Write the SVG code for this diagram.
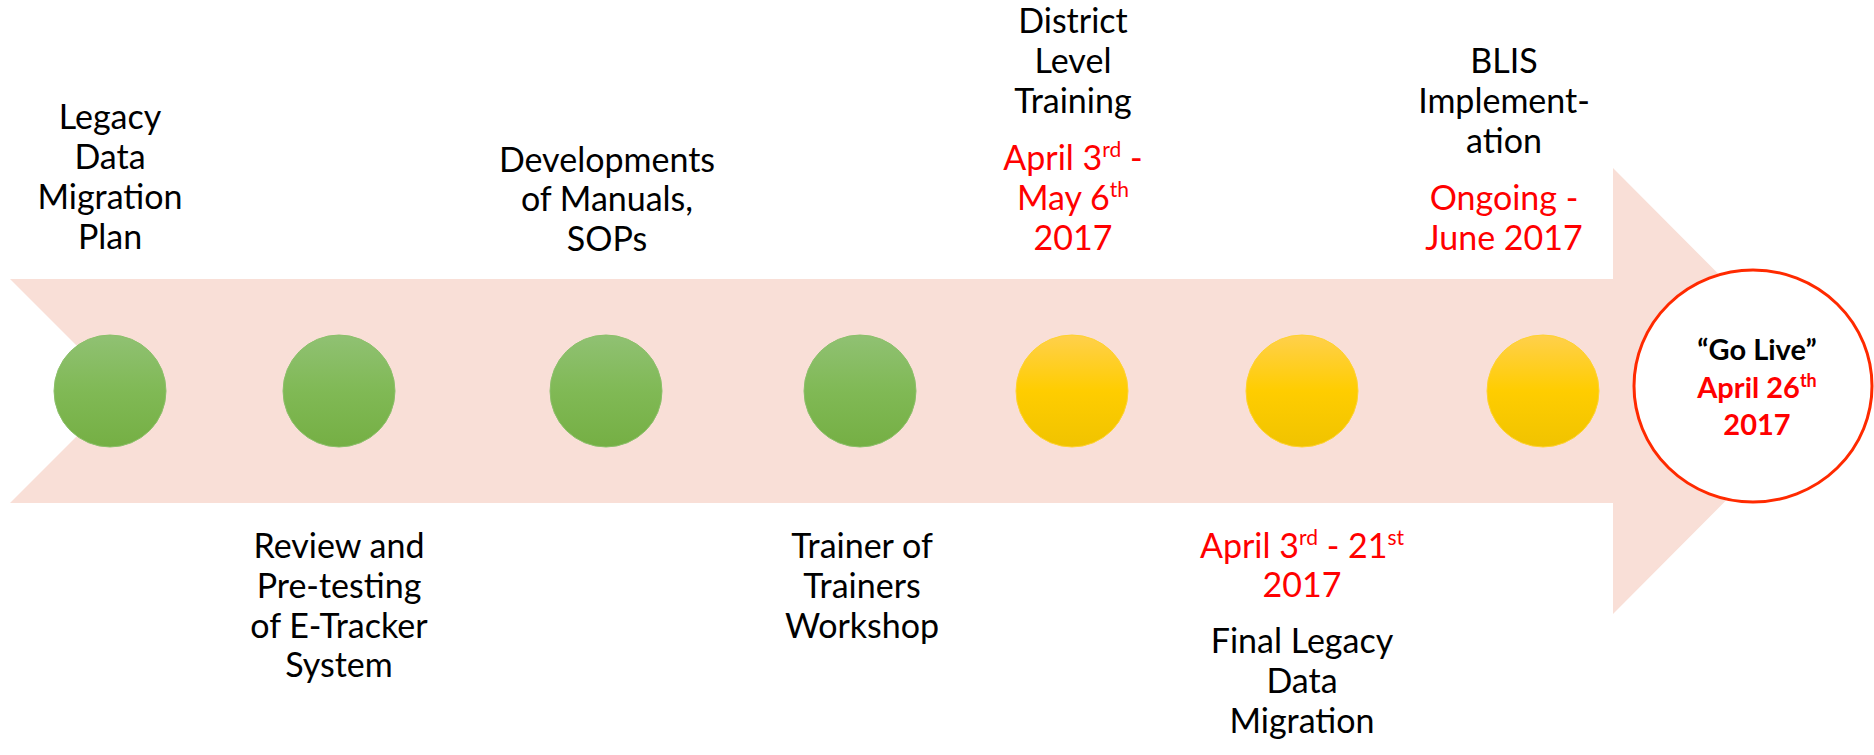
<svg xmlns="http://www.w3.org/2000/svg" width="1874" height="755" viewBox="0 0 1874 755">
<defs>
<linearGradient id="gGreen" x1="0" y1="0" x2="0" y2="1">
<stop offset="0" stop-color="#90C173"/>
<stop offset="0.5" stop-color="#80B955"/>
<stop offset="1" stop-color="#75AF44"/>
</linearGradient>
<linearGradient id="gYellow" x1="0" y1="0" x2="0" y2="1">
<stop offset="0" stop-color="#FFD04C"/>
<stop offset="0.5" stop-color="#FFCD00"/>
<stop offset="1" stop-color="#F0C300"/>
</linearGradient>
<style>
.t{font-family:Lato,"Liberation Sans",sans-serif;font-size:34px;fill:#000;text-anchor:middle}
.r{fill:#FF0000}
.b{font-weight:bold;font-size:29px}
.sup{font-size:21px}
.b .sup{font-size:18px}
.green{fill:url(#gGreen);stroke:#8CC06A;stroke-width:1}
.yellow{fill:url(#gYellow);stroke:#FFD230;stroke-width:1}
</style>
</defs>
<rect width="1874" height="755" fill="#FFFFFF"/>
<g id="arrow">
<polygon points="10,279 1613,279 1613,168 1835,391 1613,614 1613,503 10,503 122,391" fill="#F9DFD7"/>
</g>
<g id="connectors"></g>
<g id="node-legacy">
<circle class="green" cx="110" cy="391" r="56"/>
<text class="t" x="110" y="129">Legacy</text>
<text class="t" x="110" y="169">Data</text>
<text class="t" x="110" y="209">Migration</text>
<text class="t" x="110" y="249">Plan</text>
</g>
<g id="node-review">
<circle class="green" cx="339" cy="391" r="56"/>
<text class="t" x="339" y="558">Review and</text>
<text class="t" x="339" y="598">Pre-testing</text>
<text class="t" x="339" y="638">of E-Tracker</text>
<text class="t" x="339" y="677">System</text>
</g>
<g id="node-manuals">
<circle class="green" cx="606" cy="391" r="56"/>
<text class="t" x="607" y="172">Developments</text>
<text class="t" x="607" y="211">of Manuals,</text>
<text class="t" x="607" y="251">SOPs</text>
</g>
<g id="node-tot">
<circle class="green" cx="860" cy="391" r="56"/>
<text class="t" x="862" y="558">Trainer of</text>
<text class="t" x="862" y="598">Trainers</text>
<text class="t" x="862" y="638">Workshop</text>
</g>
<g id="node-district">
<circle class="yellow" cx="1072" cy="391" r="56"/>
<text class="t" x="1073" y="33">District</text>
<text class="t" x="1073" y="73">Level</text>
<text class="t" x="1073" y="113">Training</text>
<text class="t r" x="1073" y="170">April 3<tspan class="sup" dy="-13">rd</tspan><tspan dy="13"> -</tspan></text>
<text class="t r" x="1073" y="210">May 6<tspan class="sup" dy="-13">th</tspan></text>
<text class="t r" x="1073" y="250">2017</text>
</g>
<g id="node-final">
<circle class="yellow" cx="1302" cy="391" r="56"/>
<text class="t r" x="1302" y="558">April 3<tspan class="sup" dy="-13">rd</tspan><tspan dy="13"> - 21</tspan><tspan class="sup" dy="-13">st</tspan></text>
<text class="t r" x="1302" y="597">2017</text>
<text class="t" x="1302" y="653">Final Legacy</text>
<text class="t" x="1302" y="693">Data</text>
<text class="t" x="1302" y="733">Migration</text>
</g>
<g id="node-blis">
<circle class="yellow" cx="1543" cy="391" r="56"/>
<text class="t" x="1504" y="73">BLIS</text>
<text class="t" x="1504" y="113">Implement-</text>
<text class="t" x="1504" y="153">ation</text>
<text class="t r" x="1504" y="210">Ongoing -</text>
<text class="t r" x="1504" y="250">June 2017</text>
</g>
<g id="node-golive">
<ellipse cx="1753" cy="386" rx="119" ry="116" fill="#FFFFFF" stroke="#FF2A00" stroke-width="3"/>
<text class="t b" x="1757" y="360">“Go Live”</text>
<text class="t b r" x="1757" y="398">April 26<tspan class="sup" dy="-11">th</tspan></text>
<text class="t b r" x="1757" y="435">2017</text>
</g>
</svg>
